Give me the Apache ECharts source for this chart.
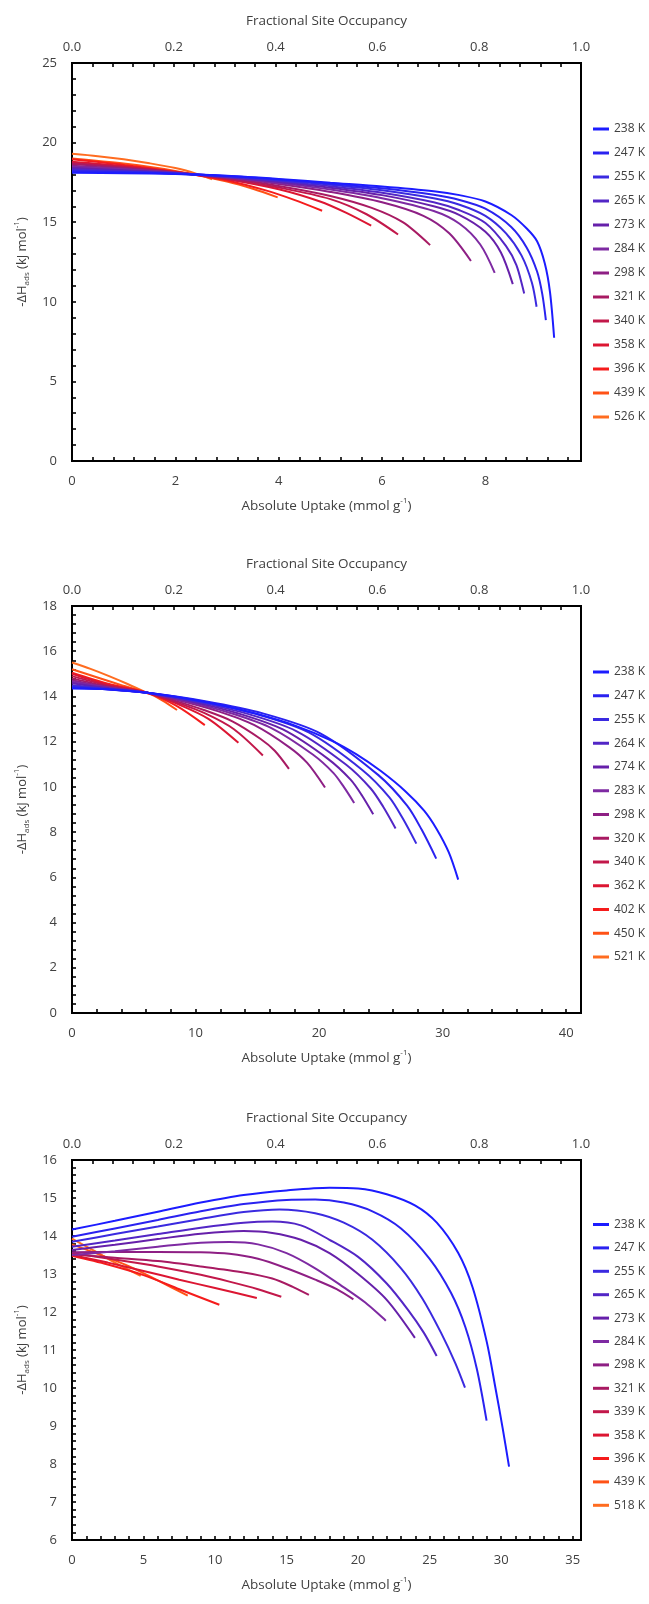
<!DOCTYPE html>
<html>
<head>
<meta charset="utf-8">
<script src="https://cdn.jsdelivr.net/npm/echarts@6/dist/echarts.min.js"></script>
<style>
  html, body { margin: 0; padding: 0; background: #fff; }
  #chart { width: 649px; height: 1604px; }
</style>
</head>
<body>
<div id="chart"></div>
<script>
// ---------------- DATA ----------------
const occupancyTicks = [0, 0.2, 0.4, 0.6, 0.8, 1.0];

const temps1 = ['238 K','247 K','255 K','265 K','273 K','284 K','298 K','321 K','340 K','358 K','396 K','439 K','526 K'];
const temps2 = ['238 K','247 K','255 K','264 K','274 K','283 K','298 K','320 K','340 K','362 K','402 K','450 K','521 K'];
const temps3 = ['238 K','247 K','255 K','265 K','273 K','284 K','298 K','321 K','339 K','358 K','396 K','439 K','518 K'];

const colors = ['#1c1cff','#2a22f0','#3a2ae0','#5226c6','#6620aa','#7e2aa2','#8e1f84','#a81a62','#c2184a','#dc1632','#f51c1c','#ff5216','#ff6c20'];

// chart 1: [uptake mmol/g, -dH kJ/mol]
const curves1 = [
  [[0,18.10],[1,18.08],[2,18.03],[3,17.92],[4,17.72],[5,17.48],[6,17.25],[7,16.95],[7.5,16.7],[8,16.3],[8.5,15.45],[8.8,14.6],[9.0,13.8],[9.15,12.4],[9.25,10.6],[9.33,7.74]],
  [[0,18.18],[1,18.13],[2,18.05],[3,17.9],[4,17.68],[5,17.42],[6,17.13],[7,16.72],[7.5,16.4],[8,15.85],[8.5,14.7],[8.8,13.4],[9.0,11.9],[9.1,10.5],[9.17,8.85]],
  [[0,18.25],[1,18.17],[2,18.06],[3,17.88],[4,17.63],[5,17.35],[6,17.0],[7,16.5],[7.5,16.1],[8,15.4],[8.4,14.3],[8.7,12.9],[8.9,11.2],[8.99,9.69]],
  [[0,18.32],[1,18.22],[2,18.07],[3,17.86],[4,17.58],[5,17.26],[6,16.85],[7,16.25],[7.5,15.75],[8,14.95],[8.4,13.5],[8.6,12.3],[8.75,10.52]],
  [[0,18.4],[1,18.27],[2,18.08],[3,17.84],[4,17.53],[5,17.17],[6,16.7],[7,16.0],[7.5,15.45],[8,14.4],[8.3,13.1],[8.53,11.11]],
  [[0,18.48],[1,18.32],[2,18.1],[3,17.82],[4,17.47],[5,17.05],[6,16.5],[7,15.7],[7.5,14.9],[7.9,13.6],[8.18,11.82]],
  [[0,18.55],[1,18.37],[2,18.11],[3,17.8],[4,17.4],[5,16.9],[6,16.25],[6.8,15.4],[7.3,14.3],[7.72,12.56]],
  [[0,18.65],[1,18.42],[2,18.13],[3,17.76],[4,17.28],[5,16.65],[5.8,15.9],[6.4,15.0],[6.93,13.56]],
  [[0,18.72],[1,18.47],[2,18.14],[3,17.72],[4,17.18],[5,16.45],[5.7,15.5],[6.31,14.23]],
  [[0,18.8],[1,18.52],[2,18.15],[3,17.7],[4,17.07],[4.8,16.3],[5.3,15.6],[5.79,14.78]],
  [[0,18.95],[1,18.6],[2,18.17],[3,17.62],[3.8,16.95],[4.3,16.4],[4.84,15.72]],
  [[0,19.0],[1,18.68],[2,18.22],[3,17.55],[3.5,17.1],[3.98,16.56]],
  [[0,19.3],[0.5,19.15],[1,18.95],[1.5,18.7],[2,18.4],[2.4,18.05],[2.71,17.7]]
];

const curves2 = [
  [[0,14.35],[3,14.31],[6.1,14.16],[9,13.93],[12,13.62],[15,13.22],[18,12.72],[21,12.05],[23,11.45],[25,10.7],[27,9.8],[28.5,8.95],[29.5,8.15],[30.5,7.1],[31.26,5.9]],
  [[0,14.4],[3,14.31],[6.1,14.16],[10.78,13.79],[15.45,13.25],[20.13,12.36],[24.8,10.52],[27.14,9.16],[28.31,8.1],[29.48,6.83]],
  [[0,14.45],[3,14.32],[6.1,14.16],[10.45,13.77],[14.81,13.24],[19.16,12.41],[23.52,10.74],[25.69,9.54],[26.78,8.6],[27.87,7.49]],
  [[0,14.5],[3,14.33],[6.1,14.16],[10.12,13.76],[14.14,13.24],[18.15,12.47],[22.17,10.99],[24.18,9.93],[25.19,9.12],[26.19,8.16]],
  [[0,14.58],[3,14.36],[6.1,14.16],[9.76,13.76],[13.41,13.26],[17.07,12.54],[20.72,11.24],[22.55,10.32],[23.47,9.62],[24.38,8.79]],
  [[0,14.65],[3,14.38],[6.1,14.16],[9.45,13.76],[12.8,13.27],[16.14,12.6],[19.49,11.43],[21.17,10.61],[22.0,10.0],[22.84,9.29]],
  [[0,14.72],[3,14.4],[6.1,14.16],[8.98,13.78],[11.85,13.34],[14.73,12.74],[17.6,11.75],[19.04,11.06],[20.48,9.97]],
  [[0,14.8],[3,14.43],[6.1,14.16],[8.39,13.8],[10.68,13.4],[12.98,12.9],[15.27,12.12],[16.41,11.6],[17.56,10.8]],
  [[0,14.9],[3,14.47],[6.1,14.16],[8.44,13.74],[10.78,13.25],[13.11,12.55],[15.45,11.39]],
  [[0,15.0],[3,14.5],[6.1,14.16],[8.53,13.67],[11.04,13.01],[13.47,11.95]],
  [[0,15.05],[3,14.55],[6.1,14.16],[8.43,13.59],[10.75,12.73]],
  [[0,15.2],[2,14.85],[4,14.5],[6.1,14.16],[7.3,13.83],[8.5,13.4]],
  [[0,15.5],[1.5,15.22],[3,14.9],[4.5,14.55],[6.2,14.12]]
];

const curves3 = [
  [[0,14.17],[3,14.4],[6,14.64],[9,14.88],[12,15.08],[15,15.2],[18,15.27],[20,15.25],[22,15.1],[24,14.8],[25.5,14.35],[27,13.55],[28,12.65],[29,11.2],[29.6,10.0],[30.1,8.95],[30.55,7.93]],
  [[0,13.98],[3,14.2],[6,14.42],[9,14.65],[12,14.84],[15,14.95],[17,14.96],[19,14.88],[21,14.65],[23,14.2],[25,13.4],[26.5,12.5],[27.5,11.6],[28.3,10.5],[28.98,9.14]],
  [[0,13.85],[3,14.05],[6,14.25],[9,14.45],[12,14.63],[14.5,14.7],[17,14.6],[19,14.35],[21,13.9],[23,13.15],[24.5,12.35],[25.8,11.45],[26.8,10.65],[27.47,10.01]],
  [[0,13.72],[3,13.88],[6,14.05],[9,14.22],[12,14.35],[14,14.38],[16,14.28],[18,13.9],[20,13.45],[22,12.75],[23.5,12.05],[24.6,11.45],[25.49,10.84]],
  [[0,13.63],[3,13.77],[6,13.92],[9,14.06],[12,14.13],[14,14.08],[16,13.9],[18,13.55],[20,13.0],[22,12.32],[23.97,11.32]],
  [[0,13.5],[3,13.6],[6,13.72],[9,13.82],[11,13.84],[13,13.78],[15,13.55],[17,13.15],[19,12.65],[20.5,12.25],[21.94,11.77]],
  [[0,13.57],[3,13.58],[6,13.58],[9,13.57],[11,13.53],[13,13.4],[15,13.15],[17,12.85],[18.5,12.6],[19.67,12.33]],
  [[0,13.52],[3,13.43],[6,13.34],[9,13.2],[12,13.04],[14,12.88],[15.5,12.65],[16.56,12.45]],
  [[0,13.55],[3,13.38],[6,13.2],[9,12.98],[11,12.8],[13,12.6],[14.63,12.4]],
  [[0,13.5],[2.5,13.3],[5,13.08],[7.5,12.85],[10,12.63],[12.92,12.37]],
  [[0,13.48],[2.5,13.25],[5,12.97],[7.5,12.6],[10.3,12.19]],
  [[0,13.78],[2,13.5],[4,13.2],[6,12.83],[8.09,12.43]],
  [[0,13.93],[1.5,13.62],[3,13.3],[4.8,12.95]]
];

// ---------------- LAYOUT ----------------
const FONT = "'Open Sans', 'DejaVu Sans', sans-serif";
const TXT = '#404040';
const panels = [
  { top: 63, height: 398, xMax: 9.85, xInt: 2, yMin: 0, yMax: 25, yInt: 5, names: temps1, curves: curves1, legendTop: 122, legendGap: 10 },
  { top: 606, height: 407, xMax: 41.2, xInt: 10, yMin: 0, yMax: 18, yInt: 2, names: temps2, curves: curves2, legendTop: 665, legendGap: 9.75 },
  { top: 1160, height: 380, xMax: 35.58, xInt: 5, yMin: 6, yMax: 16, yInt: 1, names: temps3, curves: curves3, legendTop: 1217.5, legendGap: 9.4 }
];

const tickStyle = { color: '#000', width: 1.6 };
const axisLineStyle = { color: '#000', width: 2 };
const grids = [], xAxes = [], yAxes = [], series = [], legends = [];

panels.forEach((p, i) => {
  grids.push({ left: 72, width: 509, top: p.top, height: p.height, show: true, borderColor: '#000', borderWidth: 2, containLabel: false });
  // bottom uptake axis
  xAxes.push({
    type: 'value', gridIndex: i, position: 'bottom', min: 0, max: p.xMax, interval: p.xInt,
    name: '{a|Absolute Uptake (mmol g}{sup|-1}{a|)}', nameLocation: 'middle', nameGap: 36,
    nameTextStyle: { rich: { a: { fontFamily: FONT, fontSize: 13.5, color: TXT, lineHeight: 18 }, sup: { fontFamily: FONT, fontSize: 8, color: TXT, verticalAlign: 'top', lineHeight: 10 } } },
    axisLine: { show: true, onZero: false, lineStyle: axisLineStyle },
    axisTick: { show: true, inside: true, length: 4, lineStyle: tickStyle },
    minorTick: { show: true, splitNumber: 5, length: 4, lineStyle: tickStyle },
    splitLine: { show: false },
    axisLabel: { margin: 14, color: TXT, fontFamily: FONT, fontSize: 13, showMaxLabel: false }
  });
  // top occupancy axis
  xAxes.push({
    type: 'value', gridIndex: i, position: 'top', min: occupancyTicks[0], max: occupancyTicks[occupancyTicks.length - 1], interval: 0.2,
    name: 'Fractional Site Occupancy', nameLocation: 'middle', nameGap: 35,
    nameTextStyle: { fontFamily: FONT, fontSize: 13.5, color: TXT },
    axisLine: { show: true, onZero: false, lineStyle: axisLineStyle },
    axisTick: { show: true, inside: true, length: 4, lineStyle: tickStyle },
    minorTick: { show: true, splitNumber: 5, length: 4, lineStyle: tickStyle },
    splitLine: { show: false },
    axisLabel: { margin: 9, color: TXT, fontFamily: FONT, fontSize: 13, formatter: v => v.toFixed(1) }
  });
  yAxes.push({
    type: 'value', gridIndex: i, min: p.yMin, max: p.yMax, interval: p.yInt,
    name: '{a|-ΔH}{sub|ads}{a| (kJ mol}{sup|-1}{a|)}', nameLocation: 'middle', nameGap: 41, nameRotate: 90,
    nameTextStyle: { rich: {
      a: { fontFamily: FONT, fontSize: 13, color: TXT, lineHeight: 18 },
      sub: { fontFamily: FONT, fontSize: 8, color: TXT, verticalAlign: 'bottom', lineHeight: 10 },
      sup: { fontFamily: FONT, fontSize: 8, color: TXT, verticalAlign: 'top', lineHeight: 10 } } },
    axisLine: { show: true, onZero: false, lineStyle: axisLineStyle },
    axisTick: { show: true, inside: true, length: 4, lineStyle: tickStyle },
    minorTick: { show: true, splitNumber: 5, length: 4, lineStyle: tickStyle },
    splitLine: { show: false },
    axisLabel: { margin: 15, color: TXT, fontFamily: FONT, fontSize: 13 }
  });
  p.names.forEach((nm, k) => {
    series.push({
      type: 'line', name: nm, xAxisIndex: i * 2, yAxisIndex: i,
      data: p.curves[k], showSymbol: false, symbol: 'none',
      smooth: 0.3,
      lineStyle: { width: 2, color: colors[k] }, itemStyle: { color: colors[k] },
      z: 20 - k, silent: true, animation: false
    });
  });
  legends.push({
    orient: 'vertical', left: 593, top: p.legendTop, itemGap: p.legendGap, padding: 0,
    itemWidth: 16, itemHeight: 3, icon: 'rect', selectedMode: false,
    data: p.names.map((nm, k) => ({ name: nm, itemStyle: { color: colors[k] } })),
    textStyle: { fontFamily: FONT, fontSize: 12, color: TXT, lineHeight: 14 }
  });
});

const chart = echarts.init(document.getElementById('chart'), null, { renderer: 'canvas' });
chart.setOption({
  animation: false,
  backgroundColor: '#fff',
  textStyle: { fontFamily: FONT },
  grid: grids, xAxis: xAxes, yAxis: yAxes, series: series, legend: legends
});
</script>
</body>
</html>
